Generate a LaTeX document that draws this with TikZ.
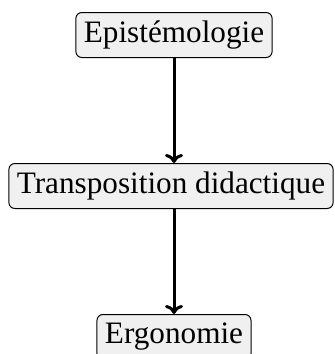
\documentclass[tikz,border=0pt]{standalone}
\usepackage{fontspec}
\setmainfont{Liberation Serif}
\usetikzlibrary{arrows.meta}

\begin{document}
\begin{tikzpicture}[x=0.5pt,y=-0.5pt]
            \tikzstyle{myBox}=[draw,rounded corners=3pt,fill=black!6,line width=0.5pt,
                               font=\fontsize{15.6}{17}\selectfont,inner xsep=4pt,minimum height=22.5pt];
            \tikzstyle{myArr}=[-{To[length=4.5pt,width=9pt]},line width=1.5pt];
            \useasboundingbox (0,0) rectangle (334,354);
            \node[myBox] (epis) at (174,35) {Epistémologie};
            \node[myBox] (trans) at (171,186) {Transposition didactique};
            \node[myBox] (ergo) at (174,337) {Ergonomie};
            \draw[myArr] (epis) -- (epis |- trans.north);
            \draw[myArr] (ergo |- trans.south) -- (ergo);
         \end{tikzpicture}
\end{document}
